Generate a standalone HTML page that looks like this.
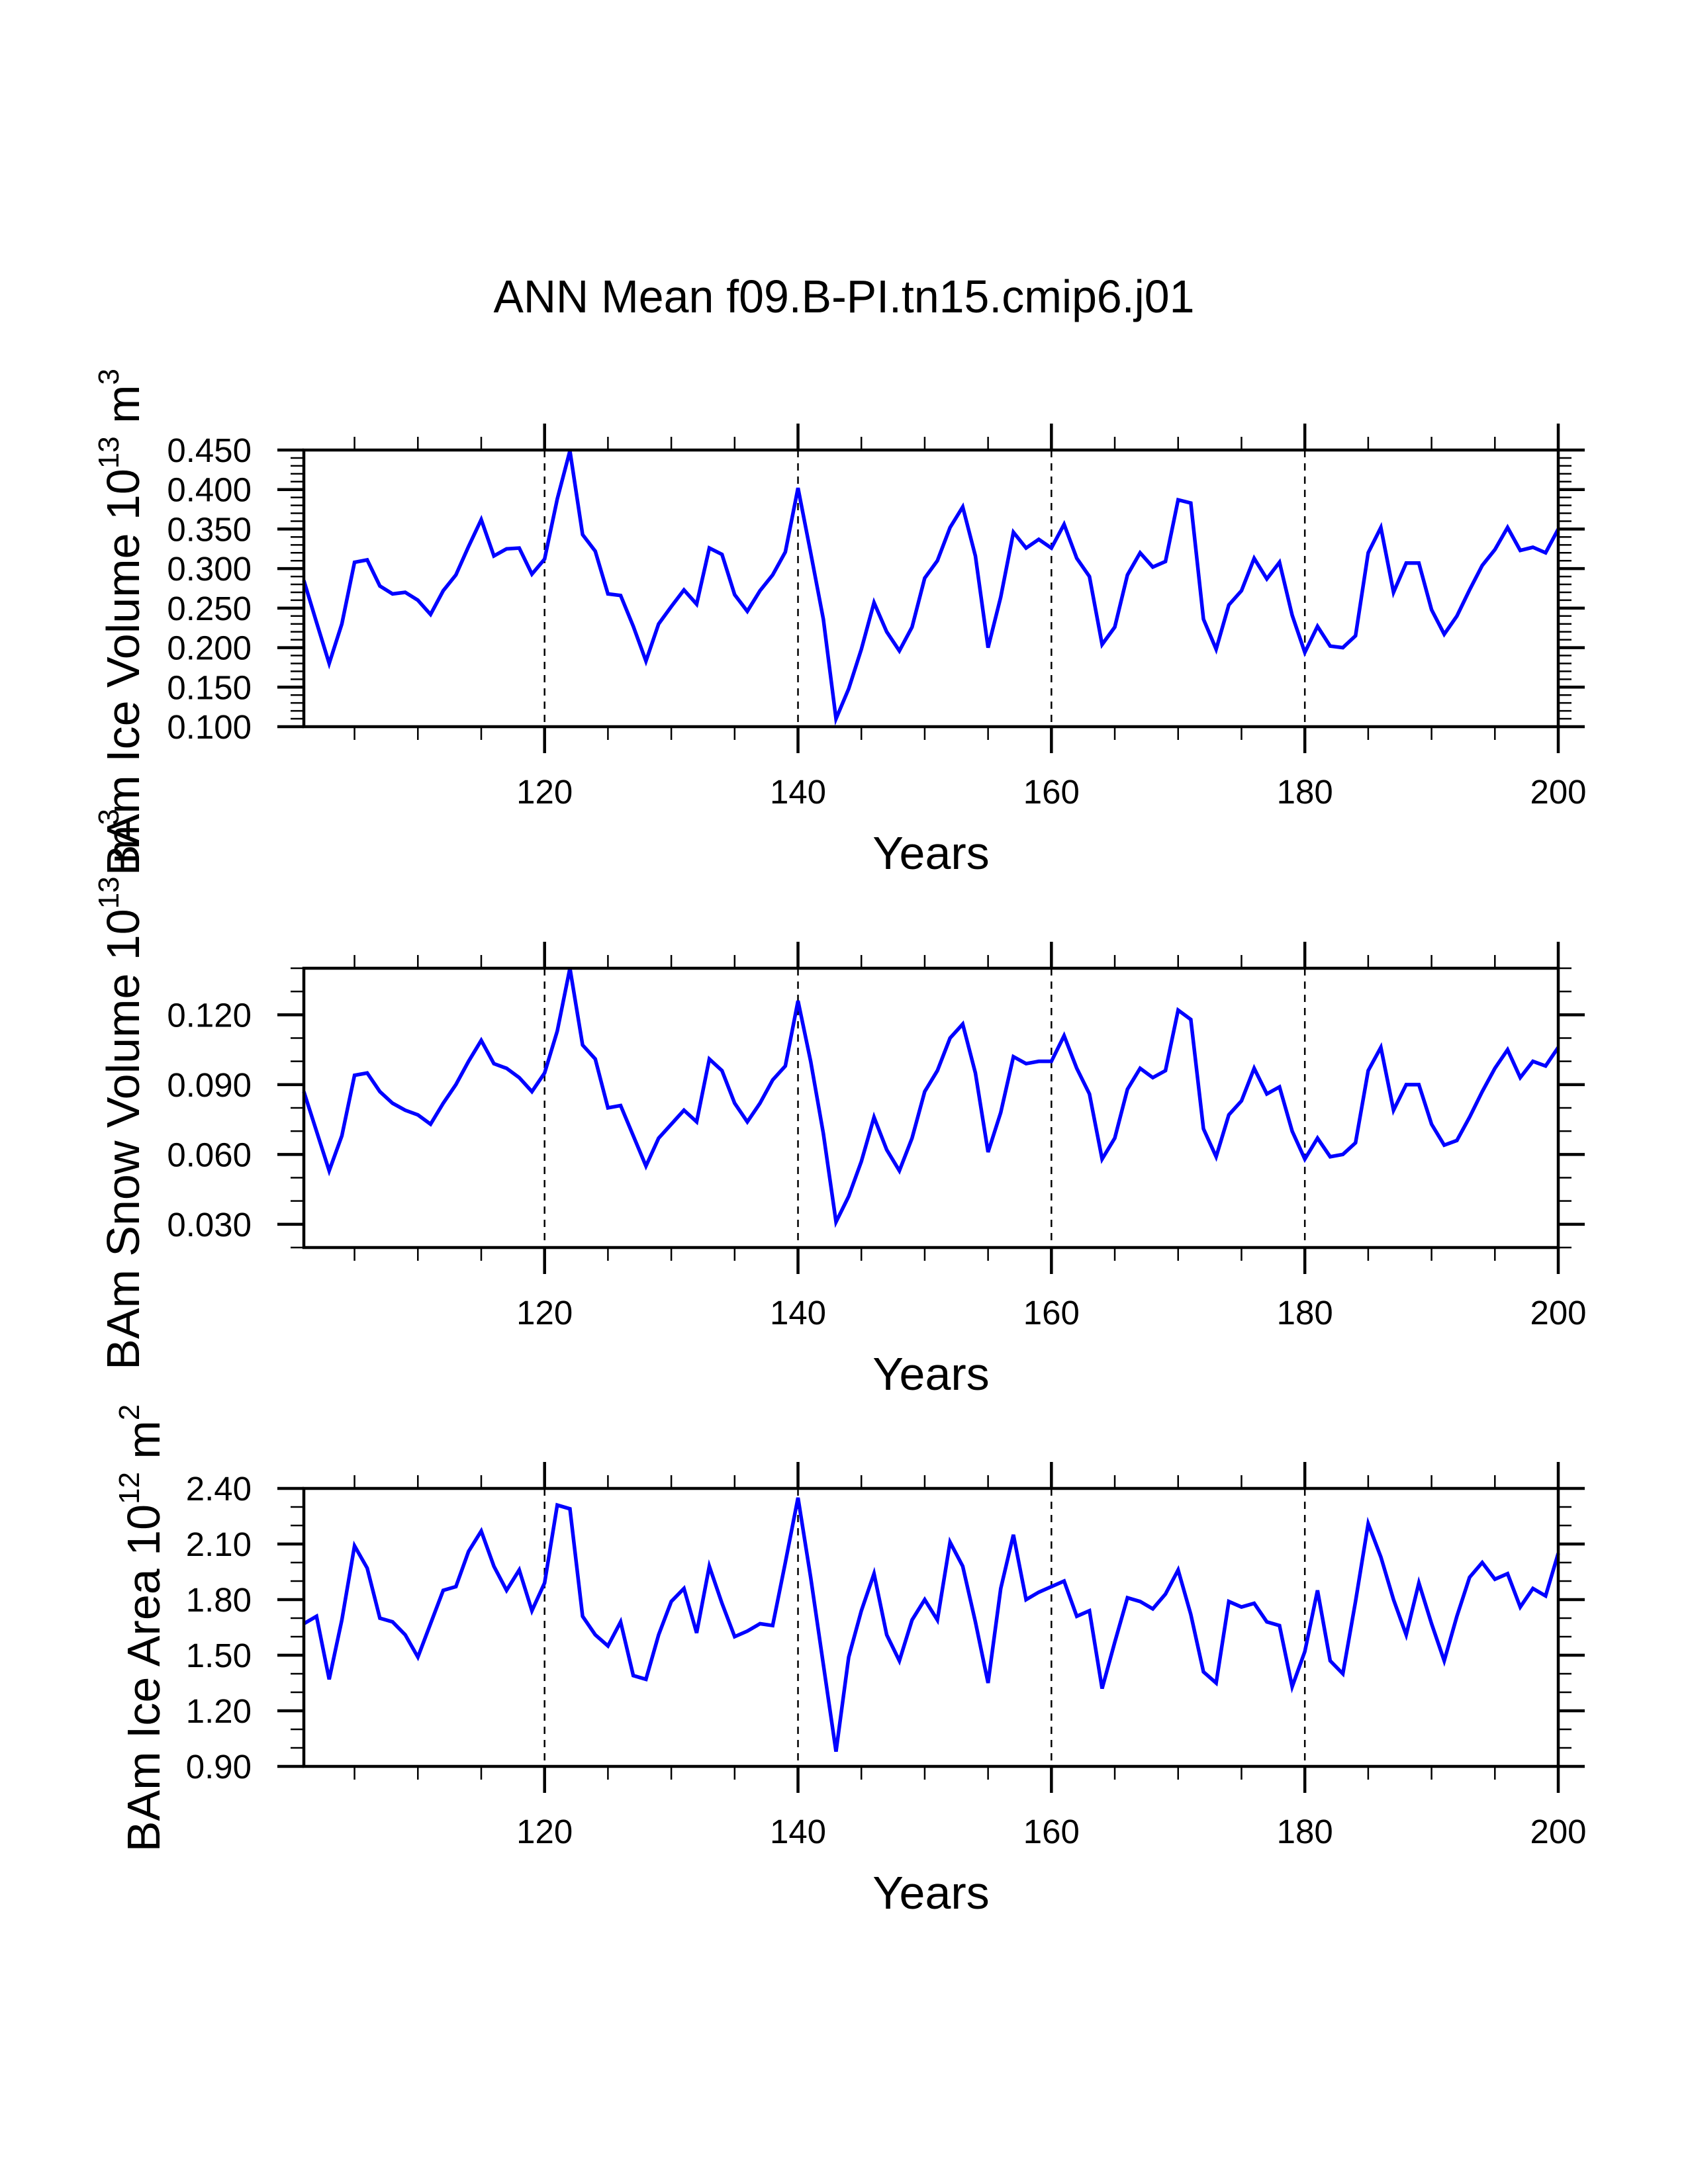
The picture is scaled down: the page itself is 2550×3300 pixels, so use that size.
<!DOCTYPE html>
<html><head><meta charset="utf-8"><style>
html,body{margin:0;padding:0;background:#fff;}
svg{display:block;font-family:"Liberation Sans",Arial,sans-serif;}
</style></head><body>
<svg id="chart" xmlns="http://www.w3.org/2000/svg" width="2550" height="3300" viewBox="0 0 2550 3300">
<rect x="0" y="0" width="2550" height="3300" fill="#fff"/>
<text x="1275" y="472" font-size="70" text-anchor="middle" textLength="1059" lengthAdjust="spacingAndGlyphs">ANN Mean f09.B-PI.tn15.cmip6.j01</text>
</svg>
<script>
const years = [];
for (let y = 101; y <= 200; y++) years.push(y);
const iceVolume = [0.285,0.232,0.180,0.230,0.308,0.311,0.278,0.268,0.270,0.260,0.242,0.272,0.292,0.328,0.362,0.316,0.325,0.326,0.293,0.312,0.388,0.449,0.343,0.322,0.268,0.266,0.227,0.183,0.230,0.252,0.273,0.255,0.326,0.318,0.267,0.246,0.272,0.292,0.321,0.402,0.320,0.236,0.110,0.148,0.198,0.257,0.220,0.196,0.226,0.288,0.310,0.352,0.378,0.316,0.200,0.264,0.346,0.326,0.337,0.326,0.356,0.313,0.290,0.204,0.226,0.292,0.320,0.302,0.309,0.387,0.383,0.236,0.198,0.254,0.272,0.313,0.287,0.308,0.241,0.194,0.227,0.202,0.200,0.215,0.320,0.352,0.270,0.307,0.307,0.248,0.217,0.240,0.273,0.304,0.324,0.352,0.323,0.327,0.320,0.350];
const snowVolume = [0.087,0.070,0.053,0.068,0.094,0.095,0.087,0.082,0.079,0.077,0.073,0.082,0.090,0.100,0.109,0.099,0.097,0.093,0.087,0.095,0.113,0.140,0.107,0.101,0.080,0.081,0.068,0.055,0.067,0.073,0.079,0.074,0.101,0.096,0.082,0.074,0.082,0.092,0.098,0.126,0.100,0.069,0.031,0.042,0.057,0.076,0.062,0.053,0.067,0.087,0.096,0.110,0.116,0.095,0.061,0.078,0.102,0.099,0.100,0.100,0.111,0.097,0.086,0.058,0.067,0.088,0.097,0.093,0.096,0.122,0.118,0.071,0.059,0.077,0.083,0.097,0.086,0.089,0.070,0.058,0.067,0.059,0.060,0.065,0.096,0.106,0.079,0.090,0.090,0.073,0.064,0.066,0.076,0.087,0.097,0.105,0.093,0.100,0.098,0.106];
const iceArea = [1.67,1.71,1.37,1.69,2.09,1.97,1.70,1.68,1.61,1.49,1.67,1.85,1.87,2.06,2.17,1.98,1.85,1.96,1.74,1.89,2.31,2.29,1.71,1.61,1.55,1.68,1.39,1.37,1.61,1.79,1.86,1.62,1.98,1.78,1.60,1.63,1.67,1.66,2.00,2.35,1.92,1.45,0.98,1.49,1.74,1.94,1.61,1.47,1.69,1.80,1.69,2.11,1.98,1.68,1.35,1.86,2.15,1.80,1.84,1.87,1.90,1.71,1.74,1.32,1.57,1.81,1.79,1.75,1.83,1.96,1.72,1.41,1.35,1.79,1.76,1.78,1.68,1.66,1.33,1.52,1.85,1.47,1.40,1.79,2.21,2.03,1.80,1.61,1.89,1.67,1.47,1.71,1.92,2.00,1.91,1.94,1.76,1.86,1.82,2.05];
const xMajorTicks = [120,140,160,180,200];
const xTickLabels = ["120","140","160","180","200"];
const volTicks = [0.45,0.40,0.35,0.30,0.25,0.20,0.15,0.10];
const volTickLabels = ["0.450","0.400","0.350","0.300","0.250","0.200","0.150","0.100"];
const snowTicks = [0.12,0.09,0.06,0.03];
const snowTickLabels = ["0.120","0.090","0.060","0.030"];
const areaTicks = [2.4,2.1,1.8,1.5,1.2,0.9];
const areaTickLabels = ["2.40","2.10","1.80","1.50","1.20","0.90"];

const NS = "http://www.w3.org/2000/svg";
const svg = document.getElementById('chart');
const X0 = 459, X1 = 2354, YR0 = 101, YR1 = 200;
function xs(yr){ return X0 + (yr - YR0) / (YR1 - YR0) * (X1 - X0); }
function mk(tag, attrs, parent){
  const e = document.createElementNS(NS, tag);
  for (const k in attrs) e.setAttribute(k, attrs[k]);
  (parent || svg).appendChild(e);
  return e;
}
function line(g,x1,y1,x2,y2,w,extra){
  const l = mk('line',{x1:x1,y1:y1,x2:x2,y2:y2,stroke:'#000','stroke-width':w},g);
  if (extra) for (const k in extra) l.setAttribute(k, extra[k]);
  return l;
}

function panel(cfg){
  const g = mk('g',{});
  
  
  const T = cfg.top, B = cfg.bottom;
  const ys = v => B - (v - cfg.min) / (cfg.max - cfg.min) * (B - T);
  [120,140,160,180].forEach(yr => {
    const d = line(g, xs(yr), T, xs(yr), B, 2.5, {'stroke-dasharray':'11 9'});
    
    
  });
  let dstr = '';
  cfg.values.forEach((v,i) => { dstr += (i ? 'L' : 'M') + xs(years[i]).toFixed(2) + ' ' + ys(v).toFixed(2); });
  const p = mk('path',{d:dstr,fill:'none',stroke:'#0000ff','stroke-width':5.5,'stroke-linejoin':'miter'},g);
  
  
  const fr = mk('rect',{x:X0,y:T,width:X1-X0,height:B-T,fill:'none',stroke:'#000','stroke-width':4.5},g);
  
  
  for (let yr = 105; yr <= 200; yr += 5){
    const major = yr % 20 === 0;
    const L = major ? 40 : 20, w = major ? 4.5 : 2.5;
    line(g, xs(yr), T, xs(yr), T - L, w);
    line(g, xs(yr), B, xs(yr), B + L, w);
  }
  xMajorTicks.forEach((yr,i) => {
    const t = mk('text',{x:xs(yr), y:B+116, 'font-size':51, 'text-anchor':'middle'},g);
    t.textContent = xTickLabels[i];
    
    
  });
  const n = Math.round((cfg.max - cfg.min) / cfg.minor);
  for (let k = 0; k <= n; k++){
    const v = cfg.min + k * cfg.minor;
    line(g, X0, ys(v), X0 - 20, ys(v), 2.5);
    line(g, X1, ys(v), X1 + 20, ys(v), 2.5);
  }
  cfg.ticks.forEach((v,i) => {
    line(g, X0, ys(v), X0 - 40, ys(v), 4.5);
    line(g, X1, ys(v), X1 + 40, ys(v), 4.5);
    const t = mk('text',{x:380, y:ys(v)+18, 'font-size':51, 'text-anchor':'end'},g);
    t.textContent = cfg.tickLabels[i];
    
    
  });
  const xt = mk('text',{x:(X0+X1)/2, y:B+215, 'font-size':70, 'text-anchor':'middle'},g);
  xt.textContent = 'Years';
  
  
  const yt = mk('text',{transform:'translate(' + cfg.labX + ',' + cfg.labY + ') rotate(-90)', 'font-size':70, 'text-anchor':'middle'},g);
  
  
  const parts = [[cfg.labA,0,70],[cfg.exp,-31,44],[' m',31,70],[cfg.unit,-31,44]];
  parts.forEach(pt => {
    const ts = mk('tspan',{dy:pt[1],'font-size':pt[2]},yt);
    ts.textContent = pt[0];
  });
}

panel({name:'ice-volume', top:680, bottom:1098, min:0.10, max:0.45, minor:0.01, values:iceVolume, ticks:volTicks, tickLabels:volTickLabels, labX:210, labY:940, labA:'BAm Ice Volume 10', exp:'13', unit:'3'});
panel({name:'snow-volume', top:1463, bottom:1885, min:0.02, max:0.14, minor:0.01, values:snowVolume, ticks:snowTicks, tickLabels:snowTickLabels, labX:210, labY:1646, labA:'BAm Snow Volume 10', exp:'13', unit:'3'});
panel({name:'ice-area', top:2249, bottom:2669, min:0.9, max:2.4, minor:0.1, values:iceArea, ticks:areaTicks, tickLabels:areaTickLabels, labX:241, labY:2460, labA:'BAm Ice Area 10', exp:'12', unit:'2'});
</script>
</body></html>
